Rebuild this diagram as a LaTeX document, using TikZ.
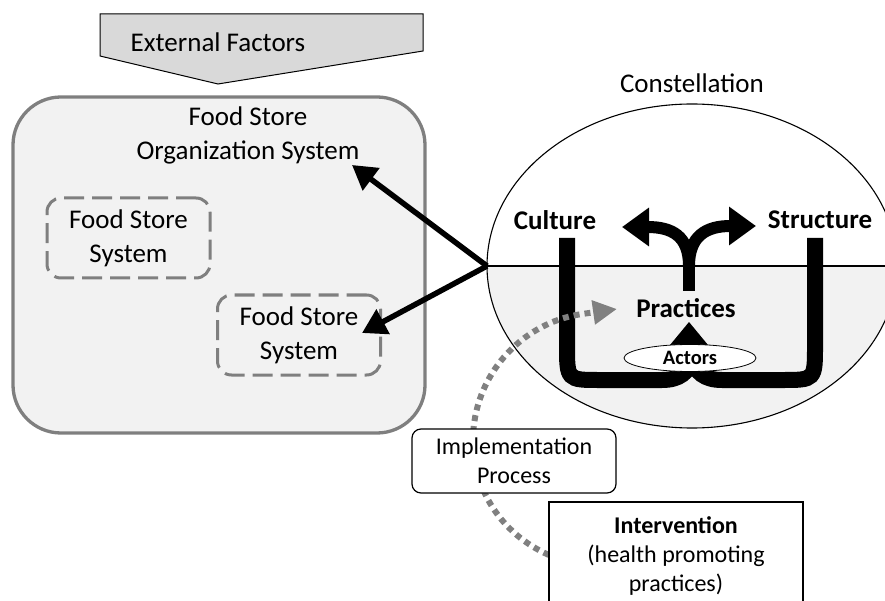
\documentclass[tikz,border=0pt]{standalone}
\usepackage{fontspec}
\setmainfont{Carlito}
\usetikzlibrary{arrows.meta,shapes.geometric}
\definecolor{boxfill}{HTML}{F2F2F2}
\definecolor{extfill}{HTML}{D9D9D9}
\definecolor{edgegray}{HTML}{7F7F7F}
\definecolor{dotgray}{HTML}{808080}
\begin{document}
\begin{tikzpicture}[x=1pt,y=-1pt,
  bigtxt/.style={font=\fontsize{27}{34}\selectfont, align=center, inner sep=0pt},
  boldtxt/.style={font=\fontsize{27}{34}\selectfont\bfseries, inner sep=0pt},
  midtxt/.style={font=\fontsize{24}{29}\selectfont, align=center, inner sep=0pt},
  storebox/.style={draw=edgegray, line width=3pt, dash pattern=on 20pt off 8pt,
    rounded corners=14pt, minimum width=163pt, minimum height=80pt,
    font=\fontsize{27}{34}\selectfont, align=center, inner sep=0pt},
  bigarrow/.style={line width=5.5pt, -{Triangle[length=24pt,width=27pt]}},
  thickbar/.style={line width=16pt},
  forkbar/.style={line width=12pt},
  forktip/.style={-{Triangle[length=27pt,width=37pt]}},
  dotline/.style={draw=dotgray, line width=6pt, dash pattern=on 6pt off 5pt,
    -{Triangle[length=24pt,width=23pt]}},
]
\useasboundingbox (0,0) rectangle (885,601);
\clip (0,0) rectangle (885,601);

% External factors
\draw[fill=extfill, line width=1pt] (100,14) -- (423,14) -- (423,51) -- (218,84) -- (100,56) -- cycle;
\node[bigtxt] (ext) at (218,42) {External Factors};

% Organization system
\node[draw=edgegray, fill=boxfill, line width=3.3pt, rounded corners=48pt,
  minimum width=412pt, minimum height=336pt, inner sep=0pt] (orgbox) at (219,265) {};
\node[bigtxt] (org) at (248,135) {Food Store\\Organization System};
\node[storebox] (fs1) at (128.5,238) {Food Store\\System};
\node[storebox] (fs2) at (299,335) {Food Store\\System};

% Constellation ellipse
\begin{scope}
  \clip (692,266) ellipse [x radius=205, y radius=162];
  \fill[boxfill] (480,266) rectangle (900,440);
\end{scope}
\draw[line width=1.1pt] (692,266) ellipse [x radius=205, y radius=162];
\coordinate (hub) at (487,266);
\coordinate (rightend) at (885,266);
\draw[line width=1.1pt] (hub) -- (rightend);
\node[bigtxt] (const) at (692,83) {Constellation};

% arrows from hub
\coordinate (orgtip) at (352,165);
\coordinate (fs2tip) at (362,333);
\draw[bigarrow] (hub) -- (orgtip);
\draw[bigarrow] (hub) -- (fs2tip);

% U shapes
\coordinate (ujoin) at (692,360);
\draw[thickbar] (567,238) -- (567,345) .. controls (567,380) .. (600,380) -- (662,380)
  .. controls (680,380) and (688,372) .. (ujoin);
\draw[thickbar] (815,238) -- (815,345) .. controls (815,380) .. (782,380) -- (722,380)
  .. controls (704,380) and (696,372) .. (ujoin);

% fork
\coordinate (forkbase) at (689,291);
\coordinate (forkmid) at (689,262);
\coordinate (lefttip) at (622,227);
\coordinate (righttip) at (756,226);
\draw[forkbar] (forkbase) -- (forkmid);
\draw[forkbar, forktip] (689,266) .. controls (689,236) and (672,227) .. (lefttip);
\draw[forkbar, forktip] (689,266) .. controls (689,236) and (706,226) .. (righttip);

% actors triangle
\fill (670,345) -- (708,345) -- (689,322) -- cycle;
\node[draw, fill=white, ellipse, line width=0.8pt, minimum width=132pt, minimum height=27pt,
  inner sep=0pt, font=\fontsize{20.5}{24}\selectfont\bfseries] (actors) at (690,358) {Actors};

\node[boldtxt] (culture) at (555,220) {Culture};
\node[boldtxt] (structure) at (820,220) {Structure};
\node[boldtxt] (practices) at (686,308) {Practices};

% dotted implementation path
\coordinate (dstart) at (549,555);
\coordinate (dend) at (617,309);
\draw[dotline] (dstart) .. controls (501,534) and (473,489) .. (473,440)
  .. controls (473,377) and (520,323) .. (582,314) -- (dend);

% Implementation process
\node[draw, fill=white, line width=1.2pt, rounded corners=9pt, minimum width=204pt,
  minimum height=64pt, midtxt] (impl) at (514,461) {Implementation\\Process};

% Intervention
\draw[fill=white, line width=1.3pt] (549,502) rectangle (803,640);
\node[midtxt] (interv) at (676,556) {\textbf{Intervention}\\(health promoting\\practices)};
\end{tikzpicture}
\end{document}
